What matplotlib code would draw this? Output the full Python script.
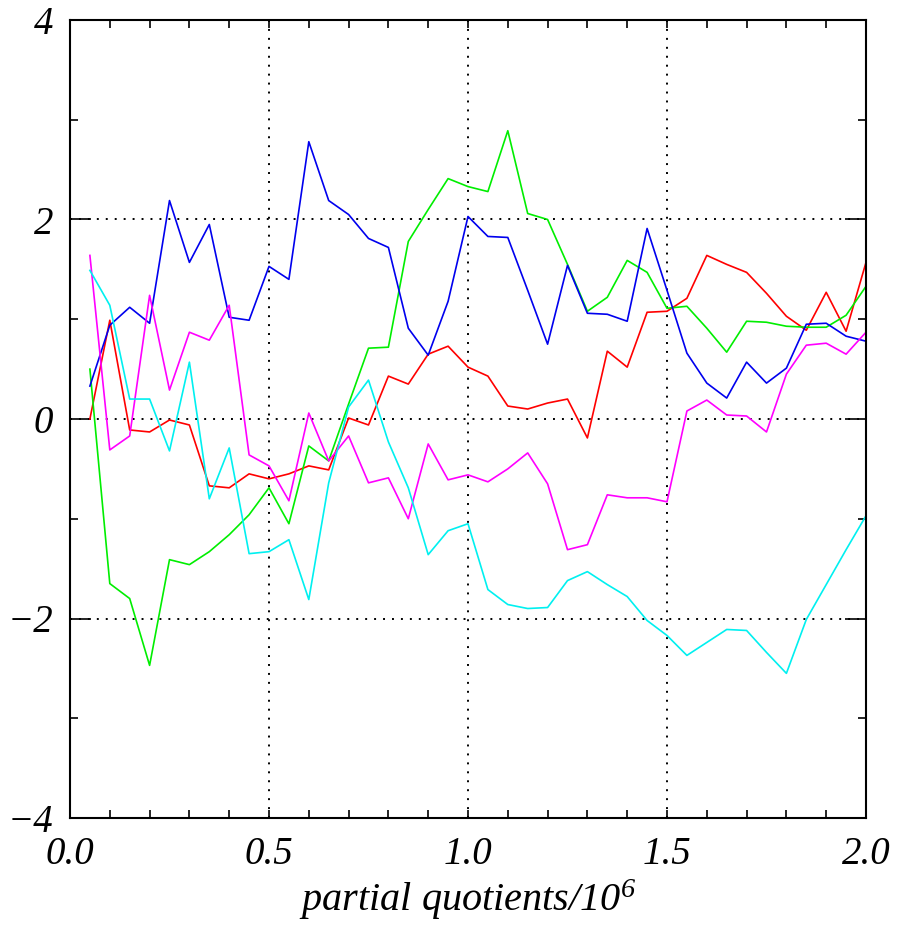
import numpy as np
import matplotlib
matplotlib.use("Agg")
import matplotlib.pyplot as plt
from matplotlib.ticker import MultipleLocator

x = [round(0.05 * k, 2) for k in range(1, 41)]

red = [0.00, 0.99, -0.11, -0.13, -0.01, -0.06, -0.67, -0.69, -0.55, -0.60,
       -0.55, -0.47, -0.51, 0.01, -0.06, 0.43, 0.35, 0.65, 0.73, 0.52,
       0.43, 0.13, 0.10, 0.16, 0.20, -0.19, 0.68, 0.52, 1.07, 1.08,
       1.21, 1.64, 1.55, 1.47, 1.26, 1.03, 0.89, 1.27, 0.88, 1.57]

green = [0.50, -1.65, -1.80, -2.47, -1.41, -1.46, -1.33, -1.16, -0.96, -0.69,
         -1.05, -0.27, -0.42, 0.15, 0.71, 0.72, 1.78, 2.10, 2.41, 2.33,
         2.28, 2.89, 2.06, 2.00, 1.55, 1.08, 1.22, 1.59, 1.47, 1.11,
         1.13, 0.91, 0.67, 0.98, 0.97, 0.93, 0.92, 0.92, 1.04, 1.33]

blue = [0.33, 0.94, 1.12, 0.96, 2.19, 1.57, 1.95, 1.02, 0.99, 1.53,
        1.40, 2.78, 2.19, 2.05, 1.81, 1.72, 0.91, 0.64, 1.18, 2.03,
        1.83, 1.82, 1.29, 0.75, 1.54, 1.06, 1.05, 0.98, 1.91, 1.29,
        0.66, 0.36, 0.21, 0.57, 0.36, 0.51, 0.95, 0.96, 0.83, 0.78]

magenta = [1.64, -0.31, -0.17, 1.24, 0.29, 0.87, 0.79, 1.14, -0.36, -0.47,
           -0.82, 0.06, -0.42, -0.17, -0.64, -0.59, -1.00, -0.25, -0.61, -0.56,
           -0.63, -0.50, -0.34, -0.65, -1.31, -1.26, -0.76, -0.79, -0.79, -0.83,
           0.08, 0.19, 0.04, 0.03, -0.13, 0.45, 0.74, 0.76, 0.65, 0.87]

cyan = [1.49, 1.14, 0.20, 0.20, -0.32, 0.57, -0.80, -0.29, -1.35, -1.33,
        -1.21, -1.81, -0.64, 0.12, 0.39, -0.23, -0.69, -1.36, -1.12, -1.05,
        -1.71, -1.86, -1.90, -1.89, -1.62, -1.53, -1.66, -1.78, -2.02, -2.17,
        -2.37, -2.24, -2.11, -2.12, -2.34, -2.55, -2.01, -1.66, -1.31, -0.97]

series = [(red, "#ff0000"), (green, "#00ee00"), (blue, "#0000ee"),
          (magenta, "#ff00ff"), (cyan, "#00f0f0")]

xticks = [0.0, 0.5, 1.0, 1.5, 2.0]
xticklabels = ["0.0", "0.5", "1.0", "1.5", "2.0"]
yticks = [-4, -2, 0, 2, 4]
yticklabels = ["\u22124", "\u22122", "0", "2", "4"]
xlabel = r"partial quotients/10$^{6}$"

plt.rcParams['font.family'] = ['Liberation Serif', 'DejaVu Serif']
plt.rcParams['font.style'] = 'italic'
plt.rcParams['mathtext.fontset'] = 'custom'
plt.rcParams['mathtext.rm'] = 'Liberation Serif:italic'
plt.rcParams['mathtext.it'] = 'Liberation Serif:italic'

fig = plt.figure(figsize=(9.13, 9.25), dpi=100)
ax = fig.add_axes([70/913, 1 - 818/925, 796/913, 798/925])

for vals, col in series:
    ax.plot(x, vals, color=col, lw=1.2)

ax.set_xlim(0, 2.0)
ax.set_ylim(-4, 4)
ax.set_xticks(xticks)
ax.set_xticklabels(xticklabels, fontsize=28, style='italic')
ax.set_yticks(yticks)
ax.set_yticklabels(yticklabels, fontsize=28, style='italic')
ax.xaxis.set_minor_locator(MultipleLocator(0.1))
ax.yaxis.set_minor_locator(MultipleLocator(1.0))

ax.tick_params(which='both', direction='in', top=True, right=True, width=1.2)
ax.tick_params(axis='x', which='major', length=6, pad=13)
ax.tick_params(axis='x', which='minor', length=6)
ax.tick_params(axis='y', which='major', length=15, pad=12)
ax.tick_params(axis='y', which='minor', length=6)

for s in ax.spines.values():
    s.set_linewidth(1.5)

for xv in [0.5, 1.0, 1.5]:
    ax.axvline(xv, color='black', lw=1.4, ls=(0, (1, 3.6)), zorder=0.5)
for yv in [-2, 0, 2]:
    ax.axhline(yv, color='black', lw=1.4, ls=(0, (1, 3.6)), zorder=0.5)

ax.set_xlabel(xlabel, fontsize=29, style='italic', labelpad=3)

fig.savefig("out.png", dpi=100)
